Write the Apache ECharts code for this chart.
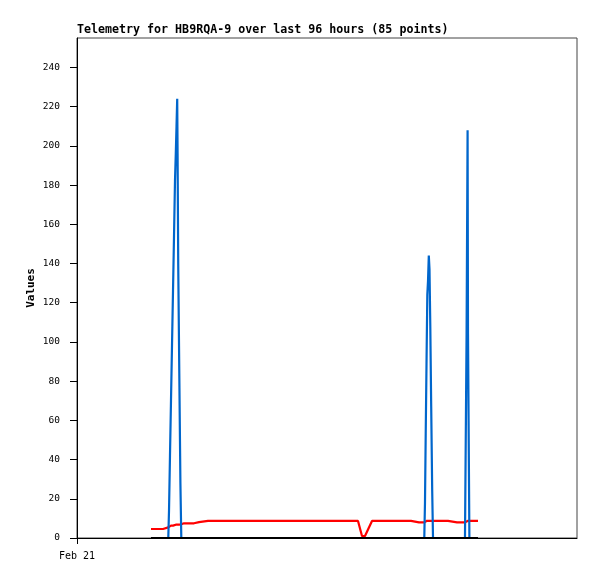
<!DOCTYPE html>
<html>
<head>
<meta charset="utf-8">
<script src="https://cdn.jsdelivr.net/npm/echarts@6/dist/echarts.min.js"></script>
<style>html,body{margin:0;padding:0;background:#fff}#c{width:597px;height:579px}</style>
</head>
<body>
<div id="c"></div>
<script>
// hours since Feb 21 00:00
const hours = [
  21.31, 22.46, 23.62, 24.77, 25.34,
  26.29, 26.50, 26.78, 27.07, 27.36, 27.65, 27.94, 28.22, 28.45, 28.66, 28.86, 28.97, 29.15, 29.46, 29.78, 30.04,
  30.82, 32.54, 33.70, 34.27, 35.14, 35.71,
  37.73, 39.74, 41.76, 43.78, 45.79, 47.81, 49.82, 51.84, 53.86, 55.87, 57.89, 59.90, 61.92, 63.94, 65.95, 67.97, 69.98, 72.00, 74.02, 76.03, 78.05, 79.78,
  80.93, 82.08, 82.94, 84.96,
  87.26, 89.57, 91.87, 94.18, 96.19,
  98.50,
  100.02, 100.22, 100.43, 100.66, 100.89, 101.09, 101.32, 101.52, 101.75, 102.01, 102.30, 102.53,
  104.54, 106.85, 107.42, 109.44, 111.74,
  112.12, 112.20, 112.38, 112.49, 112.61, 112.90, 113.01,
  114.34, 115.49
];
const blueValues = [
  0, 0, 0, 0, 0,
  0, 14, 42, 70, 98, 126, 154, 182, 196, 210, 224, 196, 140, 84, 28, 0,
  0, 0, 0, 0, 0, 0,
  0, 0, 0, 0, 0, 0, 0, 0, 0, 0, 0, 0, 0, 0, 0, 0, 0, 0, 0, 0, 0, 0,
  0, 0, 0, 0,
  0, 0, 0, 0, 0,
  0,
  0, 18, 53, 89, 124, 131, 144, 137, 108, 67, 24, 0,
  0, 0, 0, 0, 0,
  0, 104, 104, 208, 104, 104, 0,
  0, 0
];
const redValues = [
  4.6, 4.6, 4.6, 4.6, 5.4,
  5.4, 5.8, 6.3, 6.3, 6.3, 6.3, 6.3, 6.5, 6.8, 6.8, 6.8, 6.8, 6.8, 6.8, 6.8, 7.0,
  7.5, 7.5, 7.5, 8.1, 8.1, 8.7,
  8.7, 8.7, 8.7, 8.7, 8.7, 8.7, 8.7, 8.7, 8.7, 8.7, 8.7, 8.7, 8.7, 8.7, 8.7, 8.7, 8.7, 8.7, 8.7, 8.7, 8.7, 8.7,
  8.7, 1.0, 1.0, 8.7,
  8.7, 8.7, 8.7, 8.7, 8.7,
  8.0,
  8.0, 8.3, 8.7, 8.7, 8.7, 8.7, 8.7, 8.7, 8.7, 8.7, 8.7, 8.7,
  8.7, 8.7, 8.0, 8.0, 8.0,
  8.2, 8.7, 8.7, 8.7, 8.7, 8.7, 8.7,
  8.7, 8.7
];
const blackValues = hours.map(() => 0);
const yTicks = [0, 20, 40, 60, 80, 100, 120, 140, 160, 180, 200, 220, 240];
const xTickLabels = ['Feb 21'];

const zip = (vals) => hours.map((h, i) => [h, vals[i]]);
const mono = 'DejaVu Sans Mono';

const chart = echarts.init(document.getElementById('c'), null, {renderer: 'canvas'});
chart.setOption({
  animation: false,
  backgroundColor: '#ffffff',
  title: {
    text: 'Telemetry for HB9RQA-9 over last 96 hours (85 points)',
    left: 77, top: 24,
    padding: 0,
    textStyle: {fontFamily: mono, fontWeight: 'bold', fontSize: 11.65, color: '#000'}
  },
  grid: {left: 77, right: 20, top: 38, bottom: 41, show: true, borderColor: '#444', borderWidth: 1, backgroundColor: 'transparent'},
  xAxis: {
    type: 'value', min: 0, max: 144, interval: 144,
    axisLine: {show: true, onZero: false, lineStyle: {color: '#000', width: 1}},
    axisTick: {show: true, length: 6, customValues: [0], lineStyle: {color: '#000'}},
    axisLabel: {customValues: [0], margin: 13, fontFamily: mono, fontSize: 10, color: '#000',
      formatter: (v) => v === 0 ? xTickLabels[0] : ''},
    splitLine: {show: false}
  },
  yAxis: {
    type: 'value', min: 0, max: 255, interval: 20,
    name: 'Values', nameLocation: 'middle', nameGap: 40, nameMoveOverlap: false,
    nameTextStyle: {fontFamily: mono, fontWeight: 'bold', fontSize: 11, color: '#000'},
    axisLine: {show: true, lineStyle: {color: '#000', width: 1}},
    axisTick: {show: true, length: 7, customValues: yTicks, lineStyle: {color: '#000'}},
    axisLabel: {customValues: yTicks, margin: 17, fontFamily: mono, fontSize: 9.5, color: '#000'},
    splitLine: {show: false}
  },
  series: [
    {type: 'line', name: 'red', data: zip(redValues), showSymbol: false, symbol: 'none',
      lineStyle: {color: '#ff0000', width: 2.2}, z: 2},
    {type: 'line', name: 'blue', data: zip(blueValues), showSymbol: false, symbol: 'none',
      lineStyle: {color: '#0066cc', width: 2.2}, z: 3},
    {type: 'line', name: 'black', data: zip(blackValues), showSymbol: false, symbol: 'none',
      lineStyle: {color: '#000000', width: 2}, z: 4}
  ]
});
</script>
</body>
</html>
